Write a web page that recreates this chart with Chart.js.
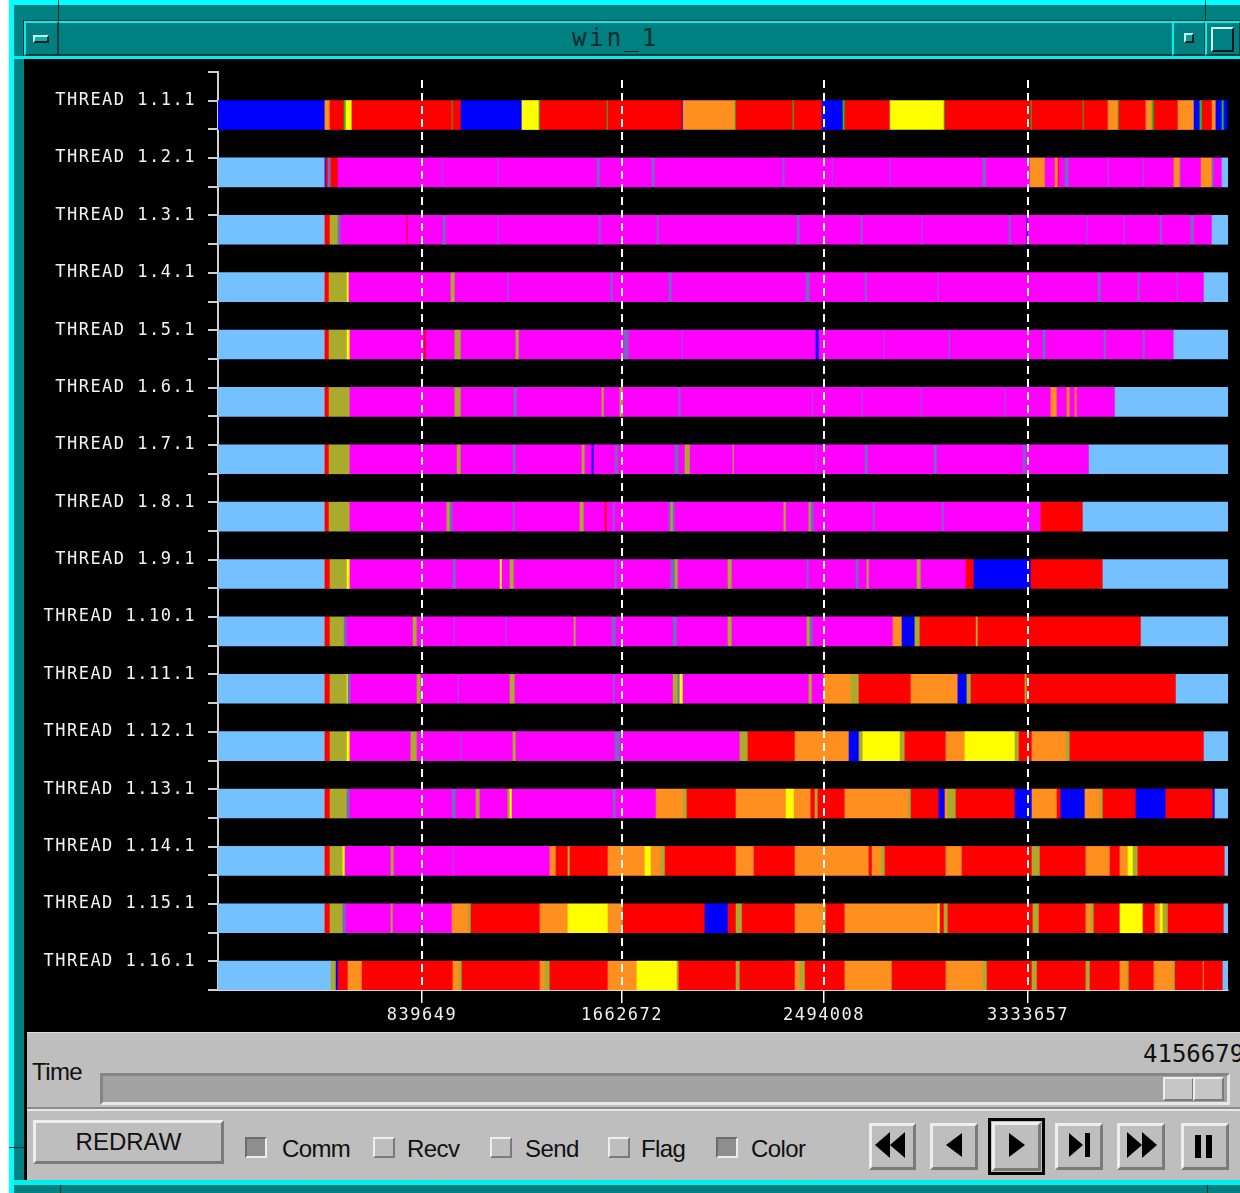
<!DOCTYPE html>
<html>
<head>
<meta charset="utf-8">
<title>win_1</title>
<script src="https://cdn.jsdelivr.net/npm/chart.js@4.4.1/dist/chart.umd.min.js"></script>
<style>
  html, body { margin: 0; padding: 0; background: #ffffff; }
  #screen { position: relative; width: 1240px; height: 1193px; overflow: hidden; background: #ffffff; }
  .abs { position: absolute; box-sizing: border-box; }
  .teal { background: #008080; }
  .raised { border-style: solid; border-width: 2px; border-color: #eeeeee #7a7a7a #7a7a7a #eeeeee; background: #bebebe; }
  .sunken { border-style: solid; border-width: 2px; border-color: #6c6c6c #ececec #ececec #6c6c6c; background: #8e8e8e; }
  .tbevel { border-style: solid; border-width: 2px; border-color: #00f0f0 #003c3c #003c3c #00f0f0; background: #008080; }
  .lbl { font-family: "Liberation Sans", Arial, sans-serif; font-size: 24px; letter-spacing: -0.6px; color: #101010; white-space: nowrap; }
  #timeline { position: absolute; left: 24px; top: 60px; width: 1216px; height: 970px; background: #000; }
</style>
</head>
<body>
<div id="screen">
  <!-- window frame -->
  <div class="abs teal" style="left:9px;top:0;width:1240px;height:1200px;border-top:5px solid #00ffff;border-left:5px solid #00ffff;"></div>
  <div class="abs" style="left:58px;top:0;width:1px;height:22px;background:#003030;"></div>
  <div class="abs" style="left:1205px;top:0;width:1px;height:22px;background:#003030;"></div>
  <div class="abs" style="left:9px;top:1147px;width:15px;height:1px;background:#003030;"></div>
  <div class="abs" style="left:60px;top:1185px;width:1px;height:10px;background:#003030;"></div>
  <div class="abs" style="left:1207px;top:1185px;width:1px;height:10px;background:#003030;"></div>

  <!-- title bar -->
  <div class="abs tbevel" style="left:24px;top:21px;width:1230px;height:35px;outline:1px solid #003030;"></div>
  <div class="abs tbevel" style="left:24px;top:21px;width:35px;height:35px;"></div>
  <div class="abs" style="left:33px;top:35px;width:16px;height:8px;border-style:solid;border-width:2px;border-color:#c8ffff #002020 #002020 #c8ffff;background:#00b4b4;"></div>
  <div class="abs" style="left:59px;top:21px;width:1113px;height:35px;line-height:35px;text-align:center;font-family:'DejaVu Sans Mono',monospace;font-size:24px;letter-spacing:3px;color:#002c2c;">win_1</div>
  <div class="abs tbevel" style="left:1172px;top:21px;width:34px;height:35px;"></div>
  <div class="abs" style="left:1184px;top:33px;width:10px;height:10px;border-style:solid;border-width:2px;border-color:#c8ffff #001818 #001818 #c8ffff;background:#00a0a0;"></div>
  <div class="abs tbevel" style="left:1205px;top:21px;width:36px;height:35px;"></div>
  <div class="abs" style="left:1211px;top:27px;width:23px;height:25px;border-style:solid;border-width:2px;border-color:#c8ffff #001818 #001818 #c8ffff;background:#008080;"></div>
  <div class="abs" style="left:14px;top:56px;width:1226px;height:3px;background:#00f0f0;"></div>

  <!-- client area -->
  <div class="abs" style="left:24px;top:59px;width:1216px;height:1121px;background:#000;"></div>
  <canvas id="timeline" width="1216" height="970"></canvas>

  <!-- control panel -->
  <div class="abs" style="left:27px;top:1032px;width:1213px;height:148px;background:#bebebe;border-top:1px solid #dcdcdc;"></div>
  <div class="abs lbl" style="left:32px;top:1058px;">Time</div>
  <div class="abs" style="left:1143px;top:1040px;font-family:'DejaVu Sans Mono',monospace;font-size:24px;color:#101010;white-space:nowrap;">4156679</div>
  <div class="abs" style="left:100px;top:1073px;width:1130px;height:32px;background:#a2a2a2;border-style:solid;border-width:3px;border-color:#858585 #e8e8e8 #e8e8e8 #858585;"></div>
  <div class="abs raised" style="left:1163px;top:1077px;width:31px;height:24px;background:#c6c6c6;"></div>
  <div class="abs raised" style="left:1193px;top:1077px;width:31px;height:24px;background:#c6c6c6;"></div>
  <div class="abs" style="left:27px;top:1107px;width:1213px;height:4px;border-top:2px solid #8a8a8a;border-bottom:2px solid #e8e8e8;"></div>

  <div class="abs raised" style="left:33px;top:1120px;width:191px;height:44px;border-width:3px;"></div>
  <div class="abs lbl" style="left:33px;top:1120px;width:191px;height:43px;line-height:43px;text-align:center;letter-spacing:0;">REDRAW</div>

  <div class="abs sunken" style="left:245px;top:1137px;width:22px;height:21px;"></div>
  <div class="abs lbl" style="left:282px;top:1135px;line-height:28px;">Comm</div>
  <div class="abs raised" style="left:373px;top:1137px;width:22px;height:21px;"></div>
  <div class="abs lbl" style="left:407px;top:1135px;line-height:28px;">Recv</div>
  <div class="abs raised" style="left:490px;top:1137px;width:22px;height:21px;"></div>
  <div class="abs lbl" style="left:525px;top:1135px;line-height:28px;">Send</div>
  <div class="abs raised" style="left:608px;top:1137px;width:22px;height:21px;"></div>
  <div class="abs lbl" style="left:641px;top:1135px;line-height:28px;">Flag</div>
  <div class="abs sunken" style="left:716px;top:1137px;width:22px;height:21px;"></div>
  <div class="abs lbl" style="left:751px;top:1135px;line-height:28px;">Color</div>

  <div class="abs raised" style="left:869px;top:1123px;width:47px;height:47px;border-width:3px;"></div>
  <div class="abs raised" style="left:930px;top:1123px;width:48px;height:47px;border-width:3px;"></div>
  <div class="abs" style="left:988px;top:1118px;width:57px;height:57px;border:3px solid #000;"></div>
  <div class="abs raised" style="left:992px;top:1122px;width:49px;height:49px;border-width:3px;"></div>
  <div class="abs raised" style="left:1055px;top:1123px;width:48px;height:47px;border-width:3px;"></div>
  <div class="abs raised" style="left:1117px;top:1123px;width:48px;height:47px;border-width:3px;"></div>
  <div class="abs raised" style="left:1181px;top:1123px;width:48px;height:47px;border-width:3px;"></div>
  <svg class="abs" style="left:0;top:0;" width="1240" height="1193" viewBox="0 0 1240 1193">
    <g fill="#000">
      <polygon points="875,1145 890,1132 890,1158"/>
      <polygon points="890,1145 905,1132 905,1158"/>
      <polygon points="946,1145 962,1133 962,1157"/>
      <polygon points="1009,1133 1025,1145 1009,1157"/>
      <polygon points="1069,1133 1083,1145 1069,1157"/>
      <rect x="1085" y="1133" width="5" height="24"/>
      <polygon points="1127,1132 1142,1145 1127,1158"/>
      <polygon points="1142,1132 1157,1145 1142,1158"/>
      <rect x="1195" y="1135" width="6" height="23"/>
      <rect x="1206" y="1135" width="6" height="23"/>
    </g>
  </svg>
  <div class="abs" style="left:14px;top:1180px;width:1226px;height:5px;background:#00f0f0;"></div>
</div>

<script>
// Time range of the trace and the labelled instants on the time axis.
const traceEnd = 4156679;
const timeTicks = [839649, 1662672, 2494008, 3333657];

const threadLabels = [
  'THREAD 1.1.1', 'THREAD 1.2.1', 'THREAD 1.3.1', 'THREAD 1.4.1',
  'THREAD 1.5.1', 'THREAD 1.6.1', 'THREAD 1.7.1', 'THREAD 1.8.1',
  'THREAD 1.9.1', 'THREAD 1.10.1', 'THREAD 1.11.1', 'THREAD 1.12.1',
  'THREAD 1.13.1', 'THREAD 1.14.1', 'THREAD 1.15.1', 'THREAD 1.16.1'
];

// State colours (Paraver-style palette).
const stateColors = {
  I: '#75c1ff', // idle
  R: '#0000ff', // running
  N: '#ff0000', // waiting a message
  M: '#ff00ff', // group communication
  O: '#ff8f1f', // send / receive
  Y: '#ffff00', // synchronisation
  L: '#aaaa2c', // scheduling / fork
  S: '#7868c4', // probe / test
  G: '#20c020'  // immediate send
};

// Each thread: [state start time, state], closed by [end time, null].
const thread01 = [[0,'R'],[440e3,'O'],[461e3,'N'],[519e3,'G'],[527e3,'Y'],[551e3,'N'],[963e3,'G'],[967e3,'N'],[1000e3,'R'],[1251e3,'Y'],[1321e3,'G'],[1325e3,'N'],[1601e3,'G'],[1605e3,'N'],[1910e3,'R'],[1914e3,'O'],[2128e3,'G'],[2132e3,'N'],[2366e3,'G'],[2371e3,'N'],[2486e3,'R'],[2572e3,'G'],[2580e3,'N'],[2766e3,'Y'],[2988e3,'G'],[2992e3,'N'],[3346e3,'G'],[3350e3,'N'],[3560e3,'G'],[3564e3,'N'],[3663e3,'O'],[3704e3,'G'],[3708e3,'N'],[3819e3,'O'],[3844e3,'G'],[3852e3,'N'],[3951e3,'O'],[4017e3,'R'],[4041e3,'G'],[4050e3,'N'],[4091e3,'O'],[4107e3,'R'],[4132e3,'G'],[4140e3,'R'],[4153e3,null]];
const thread02 = [[0,'I'],[440e3,'R'],[444e3,'N'],[453e3,'S'],[465e3,'N'],[494e3,'M'],[922e3,'S'],[926e3,'M'],[1152e3,'S'],[1156e3,'M'],[1560e3,'S'],[1572e3,'M'],[1786e3,'S'],[1798e3,'M'],[2325e3,'S'],[2333e3,'M'],[2527e3,'S'],[2531e3,'M'],[2766e3,'S'],[2770e3,'M'],[3148e3,'S'],[3161e3,'M'],[3342e3,'O'],[3404e3,'M'],[3445e3,'O'],[3457e3,'N'],[3461e3,'M'],[3486e3,'S'],[3502e3,'M'],[3663e3,'S'],[3667e3,'M'],[3807e3,'S'],[3811e3,'M'],[3934e3,'O'],[3959e3,'S'],[3963e3,'M'],[4046e3,'O'],[4091e3,'S'],[4099e3,'M'],[4132e3,'I'],[4156e3,null]];
const thread03 = [[0,'I'],[440e3,'N'],[461e3,'L'],[494e3,'S'],[506e3,'M'],[778e3,'N'],[782e3,'M'],[926e3,'S'],[938e3,'M'],[1152e3,'S'],[1156e3,'M'],[1568e3,'S'],[1576e3,'M'],[1807e3,'S'],[1815e3,'M'],[2383e3,'S'],[2395e3,'M'],[2646e3,'S'],[2654e3,'M'],[2897e3,'S'],[2901e3,'M'],[3255e3,'S'],[3264e3,'M'],[3329e3,'R'],[3334e3,'M'],[3576e3,'S'],[3580e3,'M'],[3729e3,'S'],[3733e3,'M'],[3877e3,'S'],[3885e3,'M'],[4004e3,'S'],[4017e3,'M'],[4091e3,'I'],[4156e3,null]];
const thread04 = [[0,'I'],[440e3,'N'],[457e3,'L'],[531e3,'Y'],[539e3,'M'],[959e3,'L'],[975e3,'M'],[1193e3,'S'],[1198e3,'M'],[1617e3,'S'],[1626e3,'M'],[1856e3,'S'],[1868e3,'M'],[2420e3,'S'],[2436e3,'M'],[2663e3,'S'],[2671e3,'M'],[2963e3,'S'],[2967e3,'M'],[3622e3,'S'],[3634e3,'M'],[3786e3,'S'],[3794e3,'M'],[3947e3,'S'],[3951e3,'M'],[4058e3,'I'],[4156e3,null]];
const thread05 = [[0,'I'],[440e3,'N'],[457e3,'L'],[531e3,'Y'],[543e3,'M'],[848e3,'N'],[856e3,'M'],[975e3,'L'],[1000e3,'M'],[1226e3,'L'],[1239e3,'M'],[1671e3,'S'],[1691e3,'M'],[1910e3,'S'],[1914e3,'M'],[2461e3,'R'],[2473e3,'M'],[2741e3,'S'],[2745e3,'M'],[3008e3,'S'],[3013e3,'M'],[3395e3,'S'],[3408e3,'M'],[3646e3,'S'],[3655e3,'M'],[3807e3,'S'],[3815e3,'M'],[3934e3,'I'],[4156e3,null]];
const thread06 = [[0,'I'],[440e3,'N'],[457e3,'L'],[543e3,'M'],[975e3,'L'],[1000e3,'M'],[1218e3,'S'],[1231e3,'M'],[1580e3,'L'],[1589e3,'M'],[1654e3,'L'],[1667e3,'M'],[1897e3,'S'],[1905e3,'M'],[2445e3,'S'],[2449e3,'M'],[2650e3,'S'],[2654e3,'M'],[2893e3,'S'],[2897e3,'M'],[3239e3,'S'],[3243e3,'M'],[3428e3,'O'],[3453e3,'M'],[3494e3,'O'],[3506e3,'M'],[3527e3,'O'],[3535e3,'M'],[3692e3,'I'],[4156e3,null]];
const thread07 = [[0,'I'],[440e3,'N'],[457e3,'L'],[543e3,'M'],[984e3,'L'],[1000e3,'M'],[1214e3,'S'],[1226e3,'M'],[1498e3,'L'],[1510e3,'M'],[1539e3,'R'],[1547e3,'M'],[1634e3,'S'],[1646e3,'M'],[1881e3,'S'],[1897e3,'M'],[1922e3,'L'],[1943e3,'M'],[2119e3,'L'],[2124e3,'M'],[2461e3,'S'],[2465e3,'M'],[2663e3,'S'],[2675e3,'M'],[2947e3,'S'],[2959e3,'M'],[3313e3,'S'],[3325e3,'M'],[3585e3,'I'],[4156e3,null]];
const thread08 = [[0,'I'],[440e3,'N'],[457e3,'L'],[543e3,'M'],[942e3,'L'],[955e3,'S'],[967e3,'M'],[1214e3,'S'],[1222e3,'M'],[1490e3,'L'],[1506e3,'M'],[1593e3,'N'],[1601e3,'M'],[1626e3,'S'],[1634e3,'M'],[1856e3,'S'],[1864e3,'L'],[1873e3,'S'],[1881e3,'M'],[2329e3,'L'],[2338e3,'M'],[2432e3,'L'],[2440e3,'S'],[2453e3,'M'],[2696e3,'S'],[2704e3,'M'],[2980e3,'S'],[2988e3,'M'],[3387e3,'N'],[3560e3,'I'],[4156e3,null]];
const thread09 = [[0,'I'],[440e3,'N'],[461e3,'L'],[531e3,'Y'],[543e3,'M'],[967e3,'S'],[979e3,'M'],[1161e3,'Y'],[1169e3,'M'],[1202e3,'L'],[1218e3,'M'],[1634e3,'S'],[1642e3,'M'],[1864e3,'S'],[1881e3,'L'],[1893e3,'M'],[2099e3,'L'],[2115e3,'M'],[2424e3,'S'],[2432e3,'M'],[2626e3,'S'],[2638e3,'M'],[2671e3,'L'],[2679e3,'M'],[2877e3,'L'],[2893e3,'M'],[3078e3,'N'],[3111e3,'R'],[3346e3,'N'],[3642e3,'I'],[4156e3,null]];
const thread10 = [[0,'I'],[440e3,'N'],[461e3,'L'],[519e3,'S'],[531e3,'M'],[803e3,'L'],[819e3,'M'],[971e3,'S'],[975e3,'M'],[1185e3,'S'],[1189e3,'M'],[1465e3,'L'],[1473e3,'M'],[1621e3,'S'],[1638e3,'M'],[1873e3,'S'],[1889e3,'M'],[2099e3,'L'],[2115e3,'M'],[2424e3,'L'],[2436e3,'S'],[2449e3,'M'],[2778e3,'O'],[2815e3,'R'],[2868e3,'L'],[2889e3,'N'],[3120e3,'L'],[3128e3,'N'],[3799e3,'I'],[4156e3,null]];
const thread11 = [[0,'I'],[440e3,'N'],[461e3,'L'],[531e3,'Y'],[535e3,'S'],[547e3,'M'],[819e3,'L'],[835e3,'M'],[988e3,'S'],[992e3,'M'],[1202e3,'L'],[1222e3,'M'],[1626e3,'S'],[1634e3,'M'],[1873e3,'L'],[1893e3,'S'],[1901e3,'Y'],[1914e3,'M'],[2432e3,'L'],[2445e3,'M'],[2494e3,'O'],[2605e3,'L'],[2638e3,'N'],[2852e3,'O'],[3045e3,'R'],[3082e3,'L'],[3099e3,'N'],[3321e3,'L'],[3329e3,'N'],[3943e3,'I'],[4156e3,null]];
const thread12 = [[0,'I'],[440e3,'N'],[461e3,'L'],[531e3,'Y'],[543e3,'M'],[794e3,'L'],[819e3,'M'],[1000e3,'S'],[1004e3,'M'],[1214e3,'L'],[1226e3,'M'],[1634e3,'S'],[1654e3,'M'],[2148e3,'L'],[2181e3,'N'],[2375e3,'O'],[2597e3,'R'],[2638e3,'L'],[2654e3,'Y'],[2807e3,'L'],[2827e3,'N'],[2996e3,'O'],[3074e3,'Y'],[3280e3,'L'],[3297e3,'N'],[3350e3,'O'],[3490e3,'L'],[3506e3,'N'],[4058e3,'I'],[4156e3,null]];
const thread13 = [[0,'I'],[440e3,'N'],[461e3,'L'],[531e3,'S'],[543e3,'M'],[963e3,'S'],[979e3,'M'],[1062e3,'L'],[1078e3,'M'],[1193e3,'L'],[1202e3,'Y'],[1210e3,'M'],[1626e3,'S'],[1638e3,'M'],[1803e3,'O'],[1914e3,'L'],[1930e3,'N'],[2132e3,'O'],[2338e3,'Y'],[2371e3,'O'],[2440e3,'N'],[2457e3,'L'],[2469e3,'N'],[2580e3,'O'],[2840e3,'L'],[2852e3,'N'],[2967e3,'R'],[2992e3,'O'],[3004e3,'L'],[3037e3,'N'],[3280e3,'R'],[3350e3,'O'],[3453e3,'N'],[3469e3,'R'],[3568e3,'O'],[3630e3,'L'],[3642e3,'N'],[3778e3,'R'],[3901e3,'N'],[4095e3,'R'],[4103e3,'I'],[4156e3,null]];
const thread14 = [[0,'I'],[440e3,'N'],[461e3,'L'],[514e3,'Y'],[523e3,'M'],[712e3,'L'],[724e3,'M'],[967e3,'S'],[971e3,'M'],[1366e3,'O'],[1391e3,'N'],[1440e3,'L'],[1449e3,'N'],[1605e3,'O'],[1757e3,'Y'],[1782e3,'O'],[1823e3,'L'],[1840e3,'N'],[2132e3,'O'],[2206e3,'N'],[2375e3,'O'],[2679e3,'N'],[2692e3,'O'],[2729e3,'L'],[2745e3,'N'],[2996e3,'O'],[3062e3,'N'],[3350e3,'L'],[3383e3,'N'],[3572e3,'O'],[3671e3,'N'],[3712e3,'O'],[3745e3,'Y'],[3766e3,'L'],[3786e3,'N'],[4144e3,'I'],[4156e3,null]];
const thread15 = [[0,'I'],[440e3,'N'],[461e3,'L'],[514e3,'S'],[527e3,'M'],[712e3,'L'],[720e3,'M'],[963e3,'O'],[1029e3,'L'],[1041e3,'N'],[1325e3,'O'],[1440e3,'Y'],[1605e3,'O'],[1659e3,'L'],[1667e3,'N'],[2004e3,'R'],[2099e3,'N'],[2132e3,'L'],[2157e3,'N'],[2375e3,'O'],[2490e3,'L'],[2502e3,'N'],[2580e3,'O'],[2963e3,'Y'],[2971e3,'N'],[2988e3,'L'],[3004e3,'N'],[3354e3,'L'],[3379e3,'N'],[3572e3,'O'],[3593e3,'L'],[3605e3,'N'],[3712e3,'Y'],[3807e3,'N'],[3856e3,'O'],[3877e3,'Y'],[3889e3,'L'],[3910e3,'N'],[4140e3,'I'],[4156e3,null]];
const thread16 = [[0,'I'],[465e3,'L'],[486e3,'R'],[494e3,'N'],[535e3,'O'],[593e3,'N'],[967e3,'O'],[992e3,'L'],[1004e3,'N'],[1325e3,'O'],[1346e3,'L'],[1366e3,'N'],[1605e3,'O'],[1724e3,'Y'],[1889e3,'L'],[1897e3,'N'],[2132e3,'L'],[2148e3,'N'],[2375e3,'O'],[2395e3,'L'],[2416e3,'N'],[2580e3,'O'],[2770e3,'L'],[2774e3,'N'],[2996e3,'O'],[3148e3,'L'],[3165e3,'N'],[3350e3,'L'],[3371e3,'N'],[3572e3,'L'],[3589e3,'N'],[3712e3,'O'],[3741e3,'L'],[3749e3,'N'],[3852e3,'O'],[3930e3,'L'],[3939e3,'N'],[4054e3,'L'],[4058e3,'N'],[4136e3,'I'],[4156e3,null]];

const threads = [thread01, thread02, thread03, thread04, thread05, thread06, thread07, thread08,
                 thread09, thread10, thread11, thread12, thread13, thread14, thread15, thread16];

// One floating bar per state burst; each thread sits in the lower half of its row.
const bursts = [];
threads.forEach((row, i) => {
  for (let k = 0; k < row.length - 1; k++) {
    bursts.push({ x: [row[k][0], row[k + 1][0]], y: i + 0.75, s: row[k][1] });
  }
});

// Row ticks: band boundaries and the label position at each thread's bar top.
const rowTicks = [];
threadLabels.forEach((_, i) => { rowTicks.push(i, i + 0.5); });
rowTicks.push(threadLabels.length);

const monoFont = { family: "'DejaVu Sans Mono', monospace", size: 17 };

// Wide, terminal-like spacing for all canvas text.
const letterSpacingPlugin = {
  id: 'letterSpacing',
  beforeDraw(chart) { chart.ctx.letterSpacing = '1.5px'; }
};

// Dashed white time guides drawn over the bursts.
const timeGuides = {
  id: 'timeGuides',
  afterDatasetsDraw(chart) {
    const { ctx, chartArea, scales: { x } } = chart;
    ctx.save();
    ctx.strokeStyle = '#ffffff';
    ctx.lineWidth = 2;
    ctx.setLineDash([8, 5]);
    timeTicks.forEach(v => {
      const px = Math.round(x.getPixelForValue(v));
      ctx.beginPath();
      ctx.moveTo(px, chartArea.top + 8);
      ctx.lineTo(px, chartArea.bottom);
      ctx.stroke();
    });
    ctx.restore();
  }
};

new Chart(document.getElementById('timeline'), {
  type: 'bar',
  data: {
    datasets: [{
      data: bursts,
      backgroundColor: c => stateColors[c.raw.s],
      borderWidth: 0,
      barThickness: 29
    }]
  },
  options: {
    indexAxis: 'y',
    responsive: false,
    animation: false,
    devicePixelRatio: 1,
    layout: { padding: { top: 12, right: 12, left: 0, bottom: 0 } },
    plugins: { legend: { display: false }, tooltip: { enabled: false } },
    scales: {
      x: {
        type: 'linear',
        min: 0,
        max: traceEnd,
        afterBuildTicks: s => { s.ticks = timeTicks.map(value => ({ value })); },
        afterFit: s => { s.height = 40; },
        ticks: { autoSkip: false, maxRotation: 0, color: '#f0f0f0', font: monoFont, padding: 2, callback: v => String(v) },
        grid: { drawOnChartArea: false, color: '#ffffff', tickLength: 13, lineWidth: 1.5 },
        border: { color: '#dadada', width: 2 }
      },
      y: {
        type: 'linear',
        min: 0,
        max: threadLabels.length,
        reverse: true,
        offset: false,
        afterBuildTicks: s => { s.ticks = rowTicks.map(value => ({ value })); },
        afterFit: s => { s.width = 194; s.paddingTop = 0; s.paddingBottom = 0; },
        ticks: {
          autoSkip: false,
          color: '#f2f2f2',
          font: monoFont,
          padding: 12,
          callback: v => (Number.isInteger(v) ? '' : threadLabels[Math.floor(v)])
        },
        grid: { offset: false, drawOnChartArea: false, color: '#cfcfcf', tickLength: 10, lineWidth: 2 },
        border: { color: '#cfcfcf', width: 2 }
      }
    }
  },
  plugins: [letterSpacingPlugin, timeGuides]
});
</script>
</body>
</html>
